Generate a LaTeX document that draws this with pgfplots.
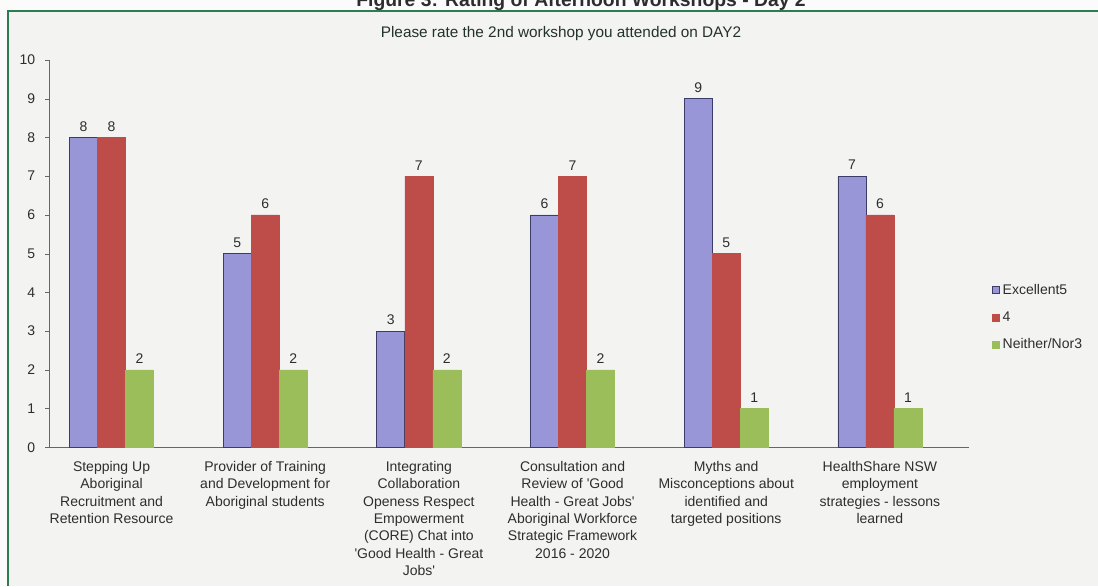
\documentclass[border=0pt]{standalone}
\usepackage{pgfplots}
\pgfplotsset{compat=1.18}
\usepackage{fontspec}
\setmainfont{Liberation Sans}
\definecolor{cpurple}{RGB}{152,150,214}
\definecolor{cpurpleline}{RGB}{60,60,105}
\definecolor{cred}{RGB}{190,76,72}
\definecolor{cgreen}{RGB}{155,190,90}
\definecolor{frame}{RGB}{46,125,80}
\definecolor{bg}{RGB}{243,244,242}
\definecolor{txt}{RGB}{45,45,45}
\definecolor{ttxt}{RGB}{35,50,40}
\begin{document}
\begin{tikzpicture}[x=0.75pt,y=0.75pt]
\useasboundingbox (0,0) rectangle (1098,586);
\clip (0,0) rectangle (1098,586);
\fill[white!60!bg] (0,0) rectangle (1098,586);
\fill[bg] (8,0) rectangle (1098,575);
\node[anchor=base, font=\bfseries\fontsize{14.5pt}{16pt}\selectfont, text=txt] at (581,579) {Figure 3: Rating of Afternoon Workshops - Day 2};
\draw[frame, line width=1.6pt] (8,0) -- (8,575) -- (1100,575);
\node[font=\fontsize{11.5pt}{13pt}\selectfont, text=ttxt] at (561,552) {Please rate the 2nd workshop you attended on DAY2};
\begin{axis}[
  at={(36.975pt,104.025pt)}, anchor=south west,
  scale only axis, width=689.8pt, height=290.5pt,
  ybar=0pt, bar width=21pt,
  xmin=-0.405, xmax=5.58,
  ymin=0, ymax=10,
  ytick={0,1,...,10},
  xtick={0,1,2,3,4,5},
  xticklabels={
    {Stepping Up\\Aboriginal\\Recruitment and\\Retention Resource},
    {Provider of Training\\and Development for\\Aboriginal students},
    {Integrating\\Collaboration\\Openess Respect\\Empowerment\\(CORE) Chat into\\{\textquotesingle}Good Health - Great\\Jobs{\textquotesingle}},
    {Consultation and\\Review of {\textquotesingle}Good\\Health - Great Jobs{\textquotesingle}\\Aboriginal Workforce\\Strategic Framework\\2016 - 2020},
    {Myths and\\Misconceptions about\\identified and\\targeted positions},
    {HealthShare NSW\\employment\\strategies - lessons\\learned}},
  axis x line*=bottom, axis y line*=left,
  axis line style={draw=black!60, line width=0.6pt},
  x axis line style={-}, y axis line style={-},
  xtick style={draw=none},
  ytick style={draw=black!60},
  tick align=outside, major tick length=3pt,
  tick label style={font=\fontsize{10.5pt}{13pt}\selectfont, text=txt},
  /pgf/number format/assume math mode=true,
  yticklabel style={xshift=-4pt},
  xticklabel style={align=center, yshift=-4pt},
  nodes near coords,
  every node near coord/.append style={font=\fontsize{10.5pt}{12pt}\selectfont, text=txt, yshift=1pt},
  legend style={at={(1.025,0.335)}, anchor=west, draw=none, fill=none,
    font=\fontsize{10.5pt}{12pt}\selectfont, text=txt,
    row sep=7.5pt, inner sep=0pt},
  legend cell align=left,
  legend image code/.code={\draw[#1] (0pt,-2.6pt) rectangle (5.2pt,2.6pt);},
]
\addplot[fill=cpurple, draw=cpurpleline, line width=0.6pt] coordinates {(0,8) (1,5) (2,3) (3,6) (4,9) (5,7)};
\addplot[fill=cred, draw=cred] coordinates {(0,8) (1,6) (2,7) (3,7) (4,5) (5,6)};
\addplot[fill=cgreen, draw=cgreen] coordinates {(0,2) (1,2) (2,2) (3,2) (4,1) (5,1)};
\legend{Excellent5, 4, Neither/Nor3}
\end{axis}
\end{tikzpicture}
\end{document}
